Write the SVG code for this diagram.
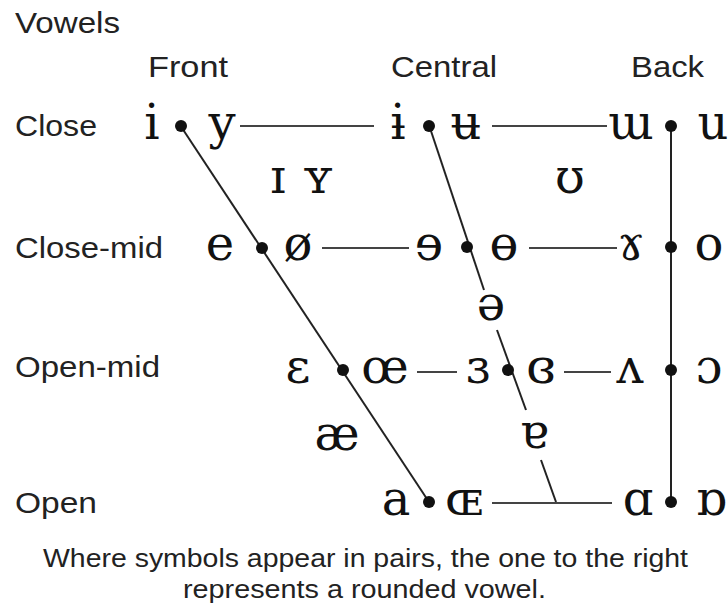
<svg xmlns="http://www.w3.org/2000/svg" width="728" height="611" viewBox="0 0 728 611">
<style>
.lab{font-family:"Liberation Sans","Arial",sans-serif;font-size:30px;fill:#222}
.cap{font-family:"Liberation Sans","Arial",sans-serif;font-size:26px;fill:#222}
.v{font-family:"DejaVu Serif","Liberation Serif",serif;font-size:48px;fill:#111;text-anchor:middle}
.ln{stroke:#222;stroke-width:2;fill:none}
.hl{stroke:#444;stroke-width:2;fill:none}
.dot{fill:#111}
</style>
<rect width="728" height="611" fill="#fff"/>
<g id="labels">
<text class="lab" x="15" y="33" textLength="105" lengthAdjust="spacingAndGlyphs">Vowels</text>
<text class="lab" x="148" y="77" textLength="80" lengthAdjust="spacingAndGlyphs">Front</text>
<text class="lab" x="391" y="77" textLength="106" lengthAdjust="spacingAndGlyphs">Central</text>
<text class="lab" x="631" y="77" textLength="73" lengthAdjust="spacingAndGlyphs">Back</text>
<text class="lab" x="15" y="136" textLength="82" lengthAdjust="spacingAndGlyphs">Close</text>
<text class="lab" x="15" y="258" textLength="148" lengthAdjust="spacingAndGlyphs">Close-mid</text>
<text class="lab" x="15" y="377" textLength="145" lengthAdjust="spacingAndGlyphs">Open-mid</text>
<text class="lab" x="15" y="513" textLength="82" lengthAdjust="spacingAndGlyphs">Open</text>
</g>
<g id="connectors">
<line class="ln" x1="180" y1="125" x2="429" y2="502"/>
<line class="ln" x1="429" y1="125" x2="484" y2="290"/>
<line class="ln" x1="497" y1="330" x2="526" y2="410"/>
<line class="ln" x1="541" y1="460" x2="556" y2="502"/>
<line class="ln" x1="671" y1="126" x2="671" y2="502"/>
<line class="hl" x1="240" y1="126" x2="374" y2="126"/>
<line class="hl" x1="492" y1="126" x2="607" y2="126"/>
<line class="hl" x1="322" y1="248" x2="409" y2="248"/>
<line class="hl" x1="529" y1="248" x2="617" y2="248"/>
<line class="hl" x1="417" y1="372" x2="457" y2="372"/>
<line class="hl" x1="564" y1="372" x2="611" y2="372"/>
<line class="hl" x1="492" y1="503" x2="612" y2="503"/>
</g>
<g id="dots">
<circle class="dot" cx="181" cy="126" r="6"/>
<circle class="dot" cx="429" cy="126" r="6"/>
<circle class="dot" cx="671" cy="126" r="6"/>
<circle class="dot" cx="262" cy="248" r="6"/>
<circle class="dot" cx="467" cy="247" r="6"/>
<circle class="dot" cx="671" cy="247" r="6"/>
<circle class="dot" cx="343" cy="370" r="6"/>
<circle class="dot" cx="508" cy="370" r="6"/>
<circle class="dot" cx="671" cy="370" r="6"/>
<circle class="dot" cx="429" cy="502" r="6"/>
<circle class="dot" cx="671" cy="502" r="6"/>
</g>
<g id="close">
<text class="v" x="152" y="139">i</text>
<text class="v" x="222" y="139">y</text>
<text class="v" x="398" y="139">ɨ</text>
<text class="v" x="466" y="139">ʉ</text>
<text class="v" x="631" y="139">ɯ</text>
<text class="v" x="713" y="139">u</text>
</g>
<g id="near-close">
<text class="v" x="278" y="193">ɪ</text>
<text class="v" x="318" y="193">ʏ</text>
<text class="v" x="570" y="193">ʊ</text>
</g>
<g id="close-mid">
<text class="v" x="220" y="260">e</text>
<text class="v" x="298" y="260">ø</text>
<text class="v" x="429" y="260">ɘ</text>
<text class="v" x="504" y="260">ɵ</text>
<text class="v" x="631" y="260">ɤ</text>
<text class="v" x="709" y="260">o</text>
</g>
<g id="mid">
<text class="v" x="491" y="320">ə</text>
</g>
<g id="open-mid">
<text class="v" x="298" y="383">ɛ</text>
<text class="v" x="385" y="383">œ</text>
<text class="v" x="478" y="383">ɜ</text>
<text class="v" x="541" y="383">ɞ</text>
<text class="v" x="630" y="383">ʌ</text>
<text class="v" x="709" y="383">ɔ</text>
</g>
<g id="near-open">
<text class="v" x="337" y="450">æ</text>
<text class="v" x="534" y="448">ɐ</text>
</g>
<g id="open">
<text class="v" x="396" y="515">a</text>
<text class="v" x="464" y="515">ɶ</text>
<text class="v" x="638" y="515">ɑ</text>
<text class="v" x="711" y="515">ɒ</text>
</g>
<g id="caption">
<text class="cap" x="43" y="567" textLength="645" lengthAdjust="spacingAndGlyphs">Where symbols appear in pairs, the one to the right</text>
<text class="cap" x="183" y="598" textLength="363" lengthAdjust="spacingAndGlyphs">represents a rounded vowel.</text>
</g>
</svg>
